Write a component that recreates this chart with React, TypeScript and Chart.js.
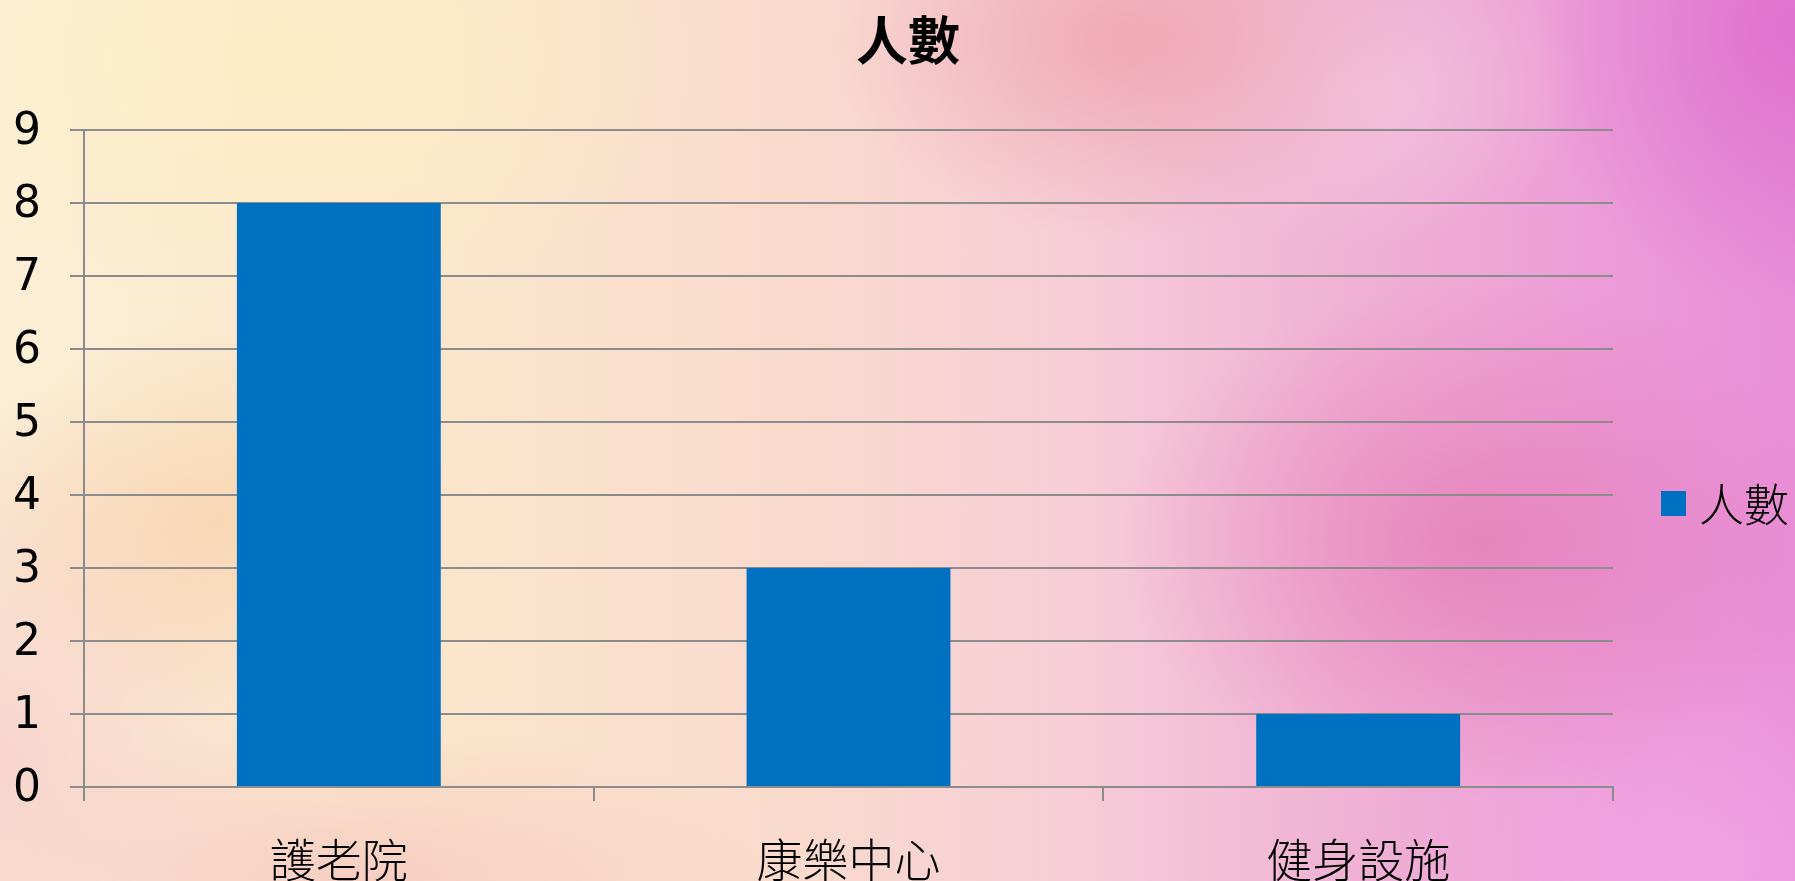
import React, { useEffect, useRef } from "react";
import { Chart, registerables } from "chart.js";

Chart.register(...registerables);

const title = "人數";
const seriesName = "人數";
const categories = ["護老院", "康樂中心", "健身設施"];
const values = [8, 3, 1];
const yMin = 0;
const yMax = 9;
const yStep = 1;

const CJK = '"Noto Sans CJK TC", "Noto Sans CJK SC", sans-serif';
const NUM = '"DejaVu Sans", "Liberation Sans", sans-serif';
const BAR = "#0070c0";
const GRID = "#8c8c8c";

const background = [
  "radial-gradient(ellipse 420px 260px at 280px 60px, rgba(253,238,196,0.85), rgba(253,238,196,0) 100%)",
  "radial-gradient(ellipse 300px 200px at 1130px 40px, rgba(238,158,170,0.75), rgba(238,158,170,0) 100%)",
  "radial-gradient(ellipse 220px 160px at 1360px 90px, rgba(246,202,224,0.7), rgba(246,202,224,0) 100%)",
  "radial-gradient(ellipse 360px 260px at 1480px 540px, rgba(228,118,180,0.7), rgba(228,118,180,0) 100%)",
  "radial-gradient(ellipse 260px 280px at 1795px 30px, rgba(222,108,206,0.85), rgba(222,108,206,0) 100%)",
  "radial-gradient(ellipse 260px 200px at 220px 520px, rgba(245,196,152,0.5), rgba(245,196,152,0) 100%)",
  "radial-gradient(ellipse 300px 380px at 0px 760px, rgba(246,204,202,0.75), rgba(246,204,202,0) 100%)",
  "radial-gradient(ellipse 420px 160px at 350px 880px, rgba(242,180,182,0.5), rgba(242,180,182,0) 100%)",
  "radial-gradient(ellipse 320px 220px at 1720px 860px, rgba(244,172,234,0.6), rgba(244,172,234,0) 100%)",
  "linear-gradient(90deg, #fcefd6 0%, #fbe6cc 25%, #f9dacd 45%, #f6cdd8 60%, #f0b2d4 75%, #ec9ed8 88%, #e98fd8 100%)",
].join(", ");

const overlayPlugin = {
  id: "overlay",
  afterDraw(chart: any) {
    const ctx = chart.ctx;
    ctx.save();
    // title
    ctx.fillStyle = "#000";
    ctx.font = `bold 52px ${CJK}`;
    ctx.textAlign = "center";
    ctx.textBaseline = "middle";
    ctx.fillText(title, 908, 40);
    // legend
    const color = chart.data.datasets[0].backgroundColor;
    ctx.fillStyle = color;
    ctx.fillRect(1661, 491, 25, 25);
    ctx.fillStyle = "#000";
    ctx.font = `300 45px ${CJK}`;
    ctx.textAlign = "left";
    ctx.fillText(chart.data.datasets[0].label, 1699, 505);
    ctx.restore();
  },
};

export default function App() {
  const ref = useRef<HTMLCanvasElement | null>(null);

  useEffect(() => {
    let chart: any = null;
    let cancelled = false;
    const make = () => {
      if (cancelled || !ref.current) return;
      chart = new Chart(ref.current, {
        type: "bar",
        data: {
          labels: categories,
          datasets: [
            {
              label: seriesName,
              data: values,
              backgroundColor: BAR,
              borderWidth: 0,
              categoryPercentage: 1,
              barPercentage: 0.4,
            },
          ],
        },
        options: {
          responsive: false,
          animation: false,
          layout: { padding: { top: 130, right: 182, left: 0, bottom: 0 } },
          plugins: {
            legend: { display: false },
            title: { display: false },
            tooltip: { enabled: false },
          },
          scales: {
            x: {
              type: "category",
              grid: {
                offset: true,
                drawOnChartArea: false,
                drawTicks: true,
                tickLength: 14,
                color: GRID,
                lineWidth: 2,
              },
              border: { display: true, color: GRID, width: 2 },
              ticks: {
                color: "#000",
                font: { family: CJK, size: 46, weight: "300" },
                padding: 31,
                maxRotation: 0,
                autoSkip: false,
              },
              afterFit(scale: any) {
                scale.height = 94;
              },
            },
            y: {
              min: yMin,
              max: yMax,
              grid: {
                color: GRID,
                lineWidth: 2,
                tickLength: 14,
                drawTicks: true,
              },
              border: { display: true, color: GRID, width: 2 },
              ticks: {
                stepSize: yStep,
                color: "#000",
                font: { family: NUM, size: 44 },
                padding: 29,
                labelOffset: 3,
              },
              afterFit(scale: any) {
                scale.width = 84;
              },
            },
          },
        },
        plugins: [overlayPlugin],
      });
    };
    const fonts = (document as any).fonts;
    if (fonts && fonts.load) {
      Promise.all([
        fonts.load(`300 45px "Noto Sans CJK TC"`),
        fonts.load(`45px "Noto Sans CJK TC"`),
        fonts.load(`bold 52px "Noto Sans CJK TC"`),
        fonts.load(`44px "DejaVu Sans"`),
      ])
        .catch(() => {})
        .then(make);
    } else {
      make();
    }
    return () => {
      cancelled = true;
      if (chart) chart.destroy();
    };
  }, []);

  return (
    <div
      style={{
        position: "fixed",
        left: 0,
        top: 0,
        width: 1795,
        height: 881,
        overflow: "hidden",
        background,
      }}
    >
      <canvas ref={ref} width={1795} height={881} style={{ display: "block" }} />
    </div>
  );
}
